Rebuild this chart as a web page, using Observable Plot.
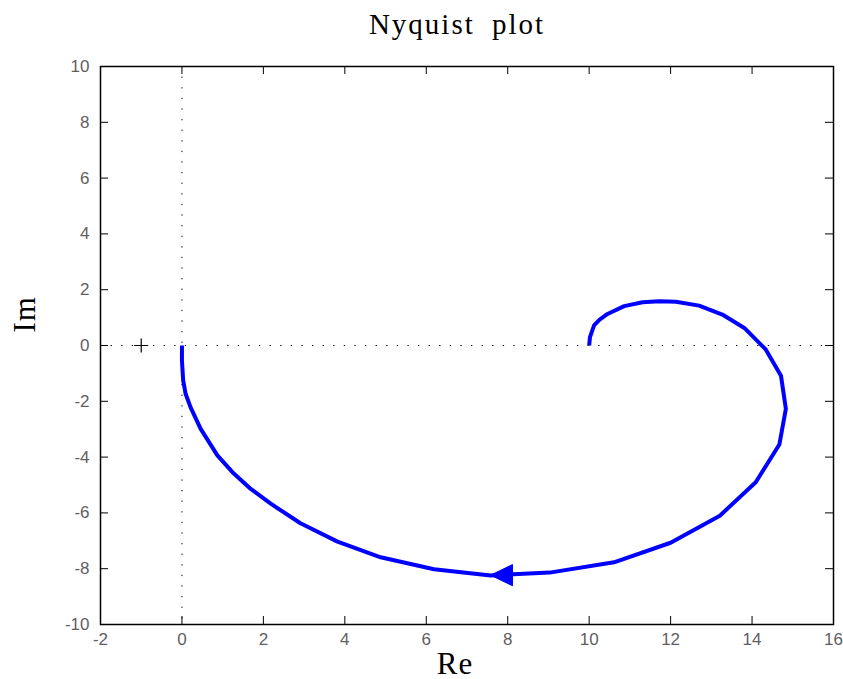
<!DOCTYPE html>
<html>
<head>
<meta charset="utf-8">
<script src="https://cdn.jsdelivr.net/npm/d3@7"></script>
<script src="https://cdn.jsdelivr.net/npm/@observablehq/plot@0.6"></script>
<style>
  html, body { margin: 0; padding: 0; background: #fff; }
</style>
</head>
<body>
<div id="chart"></div>
<script>
const reValues = [10, 10.02, 10.12, 10.25, 10.45, 10.86, 11.31, 11.72, 12.13, 12.70, 13.27, 13.81, 14.34, 14.71, 14.83, 14.67, 14.09, 13.21, 12.00, 10.61, 9.03, 7.58, 6.19, 4.88, 3.82, 2.91, 2.18, 1.69, 1.24, 0.87, 0.46, 0.21, 0.09, 0.03, 0.0, 0];
const imValues = [0, 0.3, 0.72, 0.92, 1.13, 1.41, 1.55, 1.59, 1.57, 1.43, 1.11, 0.63, -0.15, -1.08, -2.27, -3.55, -4.90, -6.10, -7.07, -7.77, -8.14, -8.24, -8.02, -7.59, -7.03, -6.37, -5.67, -5.14, -4.54, -3.94, -2.99, -2.21, -1.73, -1.25, -0.54, 0];

// direction arrow (triangle): tip and base
const arrowX = [7.59, 8.13];
const arrowLow = [-8.25, -8.63];
const arrowHigh = [-8.25, -7.87];

// critical point -1 + 0j
const critRe = [-1];
const critIm = [0];

// tick labels
const xTicks = [-2, 0, 2, 4, 6, 8, 10, 12, 14, 16];
const yTicks = [-10, -8, -6, -4, -2, 0, 2, 4, 6, 8, 10];

const titleText = "Nyquist plot";
const xLabel = "Re";
const yLabel = "Im";

const curve = reValues.map((r, i) => ({re: r, im: imValues[i]}));
const arrow = arrowX.map((x, i) => ({x, lo: arrowLow[i], hi: arrowHigh[i]}));
const crit = critRe.map((r, i) => ({re: r, im: critIm[i]}));

const W = 843, H = 679;
const mL = 100, mR = 10, mT = 66, mB = 55;
const frameW = W - mL - mR, frameH = H - mT - mB;
const tickLen = 8;
const labelColor = "#5f5f5f";
const serif = "'Liberation Serif', 'Times New Roman', serif";
const sans = "'Liberation Sans', Arial, sans-serif";
const fmt = d => String(d);

const chart = Plot.plot({
  width: W,
  height: H,
  marginLeft: mL,
  marginRight: mR,
  marginTop: mT,
  marginBottom: mB,
  x: {domain: [-2, 16], axis: null},
  y: {domain: [-10, 10], axis: null},
  style: {fontFamily: sans, background: "#fff"},
  marks: [
    // dotted axes through origin
    Plot.ruleX([0], {stroke: "#000", strokeWidth: 1, strokeDasharray: "1.3,9.3"}),
    Plot.ruleY([0], {stroke: "#000", strokeWidth: 1, strokeDasharray: "1.3,9.3"}),
    // inward ticks on all four sides
    Plot.tickX(xTicks, {x: d => d, insetTop: frameH - tickLen, stroke: "#000", strokeWidth: 1}),
    Plot.tickX(xTicks, {x: d => d, insetBottom: frameH - tickLen, stroke: "#000", strokeWidth: 1}),
    Plot.tickY(yTicks, {y: d => d, insetRight: frameW - tickLen, stroke: "#000", strokeWidth: 1}),
    Plot.tickY(yTicks, {y: d => d, insetLeft: frameW - tickLen, stroke: "#000", strokeWidth: 1}),
    // tick labels
    Plot.text(xTicks, {x: d => d, text: fmt, frameAnchor: "bottom", lineAnchor: "top", dy: 8, fontSize: 17, fill: labelColor, fontFamily: sans}),
    Plot.text(yTicks, {y: d => d, text: fmt, frameAnchor: "left", textAnchor: "end", dx: -11, fontSize: 17, fill: labelColor, fontFamily: sans}),
    // curve
    Plot.line(curve, {x: "re", y: "im", stroke: "#0000ff", strokeWidth: 4, strokeLinejoin: "round", strokeLinecap: "butt"}),
    Plot.areaY(arrow, {x: "x", y1: "lo", y2: "hi", fill: "#0000ff", stroke: "#0000ff", strokeWidth: 1}),
    // critical point marker
    Plot.dot(crit, {x: "re", y: "im", symbol: "plus", r: 4.6, stroke: "#000", strokeWidth: 1.2}),
    // frame
    Plot.frame({stroke: "#000", strokeWidth: 1.5}),
    // title and axis names
    Plot.text([titleText], {text: d => d, frameAnchor: "top", lineAnchor: "bottom", dy: -33, dx: -10, fontSize: 29, fontFamily: serif, fill: "#000"}),
    Plot.text([xLabel], {text: d => d, frameAnchor: "bottom", lineAnchor: "bottom", dy: 49, dx: -12, fontSize: 31, fontFamily: serif, fill: "#000"}),
    Plot.text([yLabel], {text: d => d, frameAnchor: "left", lineAnchor: "bottom", rotate: -90, dx: -66, dy: -13, fontSize: 31, fontFamily: serif, fill: "#000"})
  ]
});
document.getElementById("chart").appendChild(chart);

// widen the title spacing to match the reference's typesetting
d3.select(chart).selectAll("text")
  .filter(function () { return this.textContent === titleText; })
  .style("letter-spacing", "2px")
  .style("word-spacing", "8px");
d3.select(chart).selectAll("text")
  .filter(function () { return this.textContent === xLabel || this.textContent === yLabel; })
  .style("letter-spacing", "1px");
</script>
</body>
</html>
